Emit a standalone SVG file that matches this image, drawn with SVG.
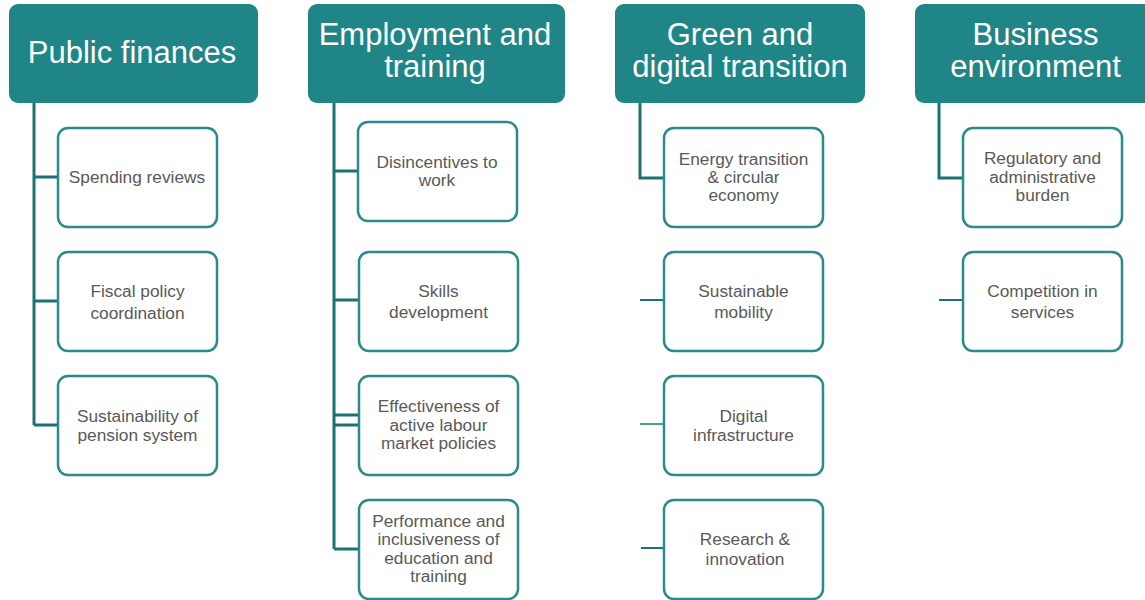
<svg xmlns="http://www.w3.org/2000/svg" width="1145" height="600" viewBox="0 0 1145 600">
<style>
.hdr{fill:#1F8587;}
.ht{font-family:"Liberation Sans",Arial,sans-serif;font-size:31px;fill:#FFFFFF;text-anchor:middle;}
.box{fill:#FFFFFF;stroke:#2A8A8C;stroke-width:2.5;}
.bt{font-family:"Liberation Sans",Arial,sans-serif;font-size:17.3px;fill:#595959;text-anchor:middle;}
.ln{stroke:#1C7174;stroke-width:3;fill:none;}
.ln2{stroke:#1C7174;stroke-width:2;fill:none;}
.lnl{stroke:#4A9FA1;stroke-width:2;fill:none;}
</style>
<rect width="1145" height="600" fill="#FFFFFF"/>
<g id="connectors">
  <path class="ln" d="M34,102 V425 M34,177 H58 M34,301 H58 M34,425 H58"/>
  <path class="ln" d="M334,102 V549 M334,171 H358 M334,300 H364 M334,415 H363 M334,425 H359 M334,549 H359"/>
  <path class="ln" d="M640,102 V178 H664"/>
  <path class="ln2" d="M640,300 H670 M641,548 H671"/>
  <path class="lnl" d="M640,424 H669"/>
  <path class="ln" d="M939,102 V178 H963"/>
  <path class="ln2" d="M939,300 H968"/>
</g>
<g id="h-public">
  <rect class="hdr" x="9" y="4" width="249" height="99" rx="9"/>
  <text class="ht" x="132" y="63">Public finances</text>
</g>
<g id="h-employment">
  <rect class="hdr" x="308" y="4" width="257" height="99" rx="9"/>
  <text class="ht" x="435" y="45">Employment and</text>
  <text class="ht" x="435" y="77">training</text>
</g>
<g id="h-green">
  <rect class="hdr" x="615" y="4" width="250" height="99" rx="9"/>
  <text class="ht" x="740" y="45">Green and</text>
  <text class="ht" x="740" y="77">digital transition</text>
</g>
<g id="h-business">
  <rect class="hdr" x="915" y="4" width="241" height="99" rx="9"/>
  <text class="ht" x="1035.5" y="45">Business</text>
  <text class="ht" x="1035.5" y="77">environment</text>
</g>
<g id="n-spending">
  <rect class="box" x="58" y="128" width="159" height="99" rx="10"/>
  <text class="bt" x="137" y="183">Spending reviews</text>
</g>
<g id="n-fiscal">
  <rect class="box" x="58" y="252" width="159" height="99" rx="10"/>
  <text class="bt" x="137.5" y="297">Fiscal policy</text>
  <text class="bt" x="137.5" y="319">coordination</text>
</g>
<g id="n-pension">
  <rect class="box" x="58" y="376" width="159" height="99" rx="10"/>
  <text class="bt" x="137.5" y="422">Sustainability of</text>
  <text class="bt" x="137.5" y="441">pension system</text>
</g>
<g id="n-disincentives">
  <rect class="box" x="358" y="122" width="159" height="99" rx="10"/>
  <text class="bt" x="437" y="168">Disincentives to</text>
  <text class="bt" x="437" y="186">work</text>
</g>
<g id="n-skills">
  <rect class="box" x="359" y="252" width="159" height="99" rx="10"/>
  <text class="bt" x="438.5" y="297">Skills</text>
  <text class="bt" x="438.5" y="318">development</text>
</g>
<g id="n-almp">
  <rect class="box" x="359" y="376" width="159" height="99" rx="10"/>
  <text class="bt" x="438.5" y="412">Effectiveness of</text>
  <text class="bt" x="438.5" y="431">active labour</text>
  <text class="bt" x="438.5" y="449">market policies</text>
</g>
<g id="n-education">
  <rect class="box" x="359" y="500" width="159" height="99" rx="10"/>
  <text class="bt" x="438.5" y="527">Performance and</text>
  <text class="bt" x="438.5" y="545">inclusiveness of</text>
  <text class="bt" x="438.5" y="564">education and</text>
  <text class="bt" x="438.5" y="582">training</text>
</g>
<g id="n-energy">
  <rect class="box" x="664" y="128" width="159" height="99" rx="10"/>
  <text class="bt" x="743.5" y="165">Energy transition</text>
  <text class="bt" x="743.5" y="183">&amp; circular</text>
  <text class="bt" x="743.5" y="201">economy</text>
</g>
<g id="n-mobility">
  <rect class="box" x="664" y="252" width="159" height="99" rx="10"/>
  <text class="bt" x="743.5" y="297">Sustainable</text>
  <text class="bt" x="743.5" y="318">mobility</text>
</g>
<g id="n-digital">
  <rect class="box" x="664" y="376" width="159" height="99" rx="10"/>
  <text class="bt" x="743.5" y="422">Digital</text>
  <text class="bt" x="743.5" y="441">infrastructure</text>
</g>
<g id="n-research">
  <rect class="box" x="664" y="500" width="159" height="99" rx="10"/>
  <text class="bt" x="745" y="545">Research &amp;</text>
  <text class="bt" x="745" y="565">innovation</text>
</g>
<g id="n-regulatory">
  <rect class="box" x="963" y="128" width="159" height="99" rx="10"/>
  <text class="bt" x="1042.5" y="164">Regulatory and</text>
  <text class="bt" x="1042.5" y="183">administrative</text>
  <text class="bt" x="1042.5" y="201">burden</text>
</g>
<g id="n-competition">
  <rect class="box" x="963" y="252" width="159" height="99" rx="10"/>
  <text class="bt" x="1042.5" y="297">Competition in</text>
  <text class="bt" x="1042.5" y="318">services</text>
</g>
</svg>
